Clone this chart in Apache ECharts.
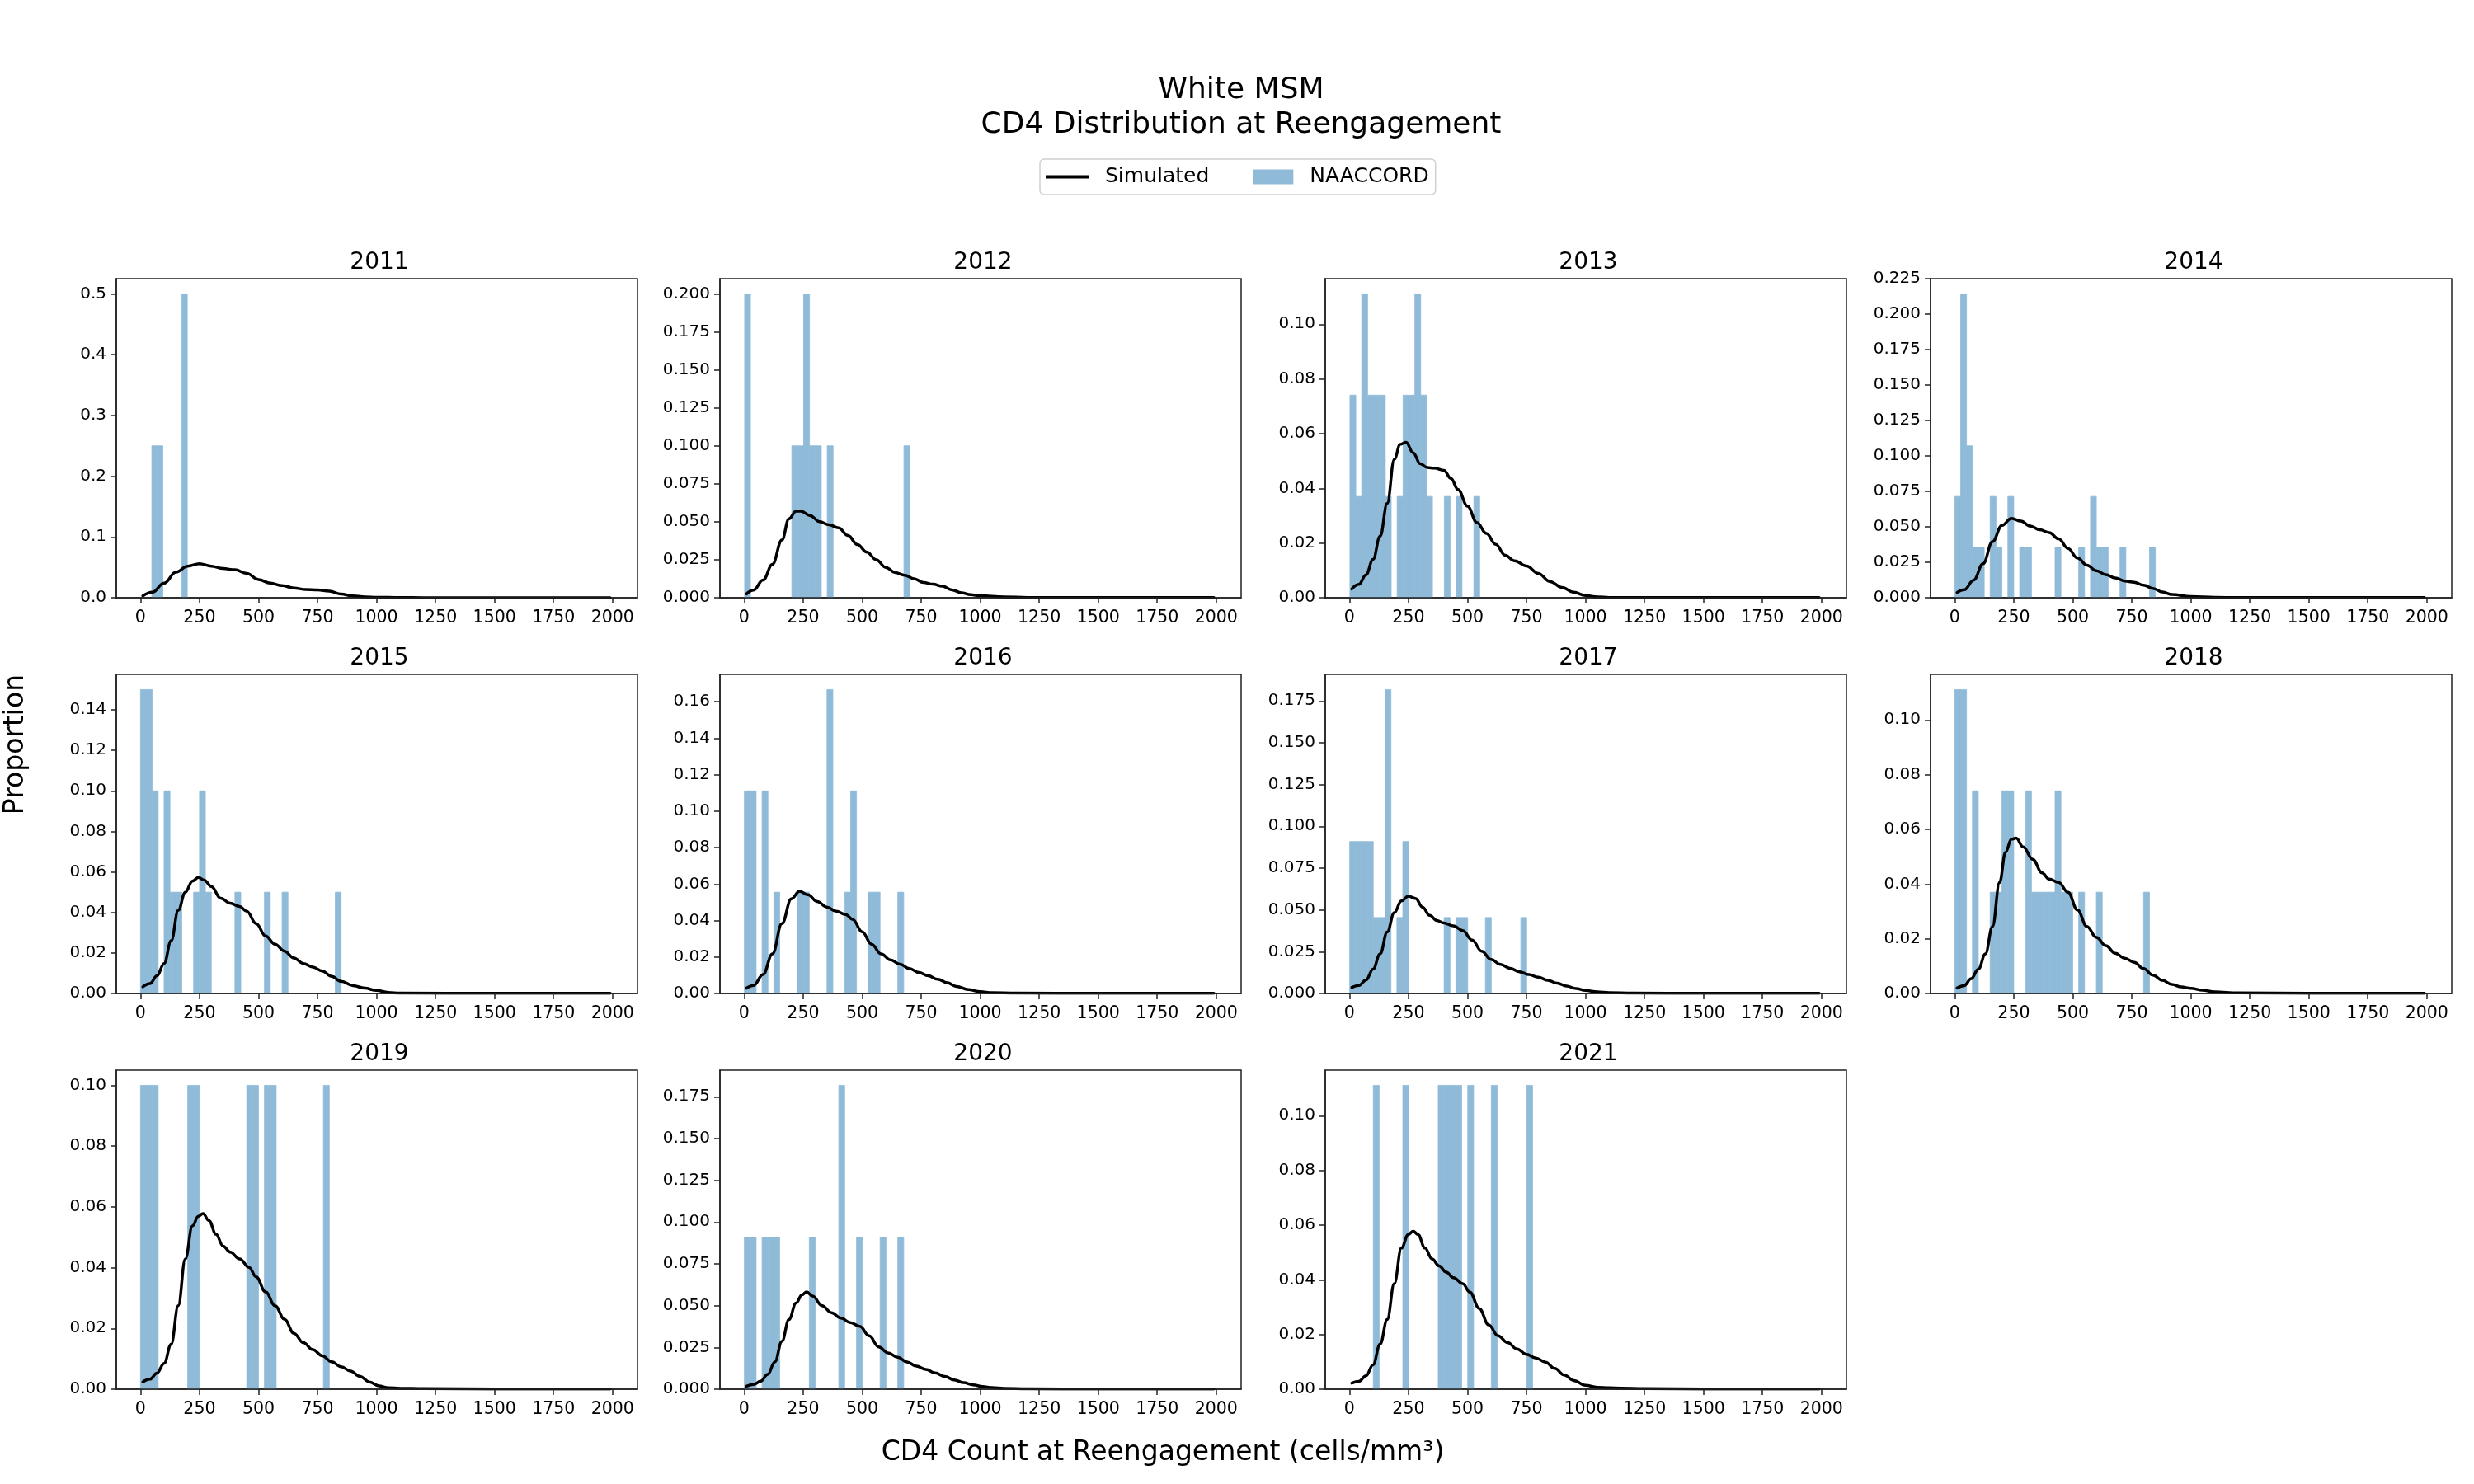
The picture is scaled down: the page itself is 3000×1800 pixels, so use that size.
<!DOCTYPE html>
<html>
<head>
<meta charset="utf-8">
<script src="https://cdn.jsdelivr.net/npm/echarts@6/dist/echarts.min.js"></script>
<style>html,body{margin:0;padding:0;background:#fff}#chart{width:3000px;height:1800px}</style>
</head>
<body>
<div id="chart"></div>
<script>
const years = ['2011','2012','2013','2014','2015','2016','2017','2018','2019','2020','2021'];
const xTickLabels = ['0','250','500','750','1000','1250','1500','1750','2000'];

// NAACCORD histogram bins: [left edge, right edge, proportion]
const naaccord2011 = [[48,71.5,0.25],[71.5,95,0.25],[175,198.5,0.5]];
const naaccord2012 = [[2,27,0.2],[202,227,0.1],[227,252,0.1],[252,277,0.2],[277,302,0.1],[302,327,0.1],[352,377,0.1],[677,702,0.1]];
const naaccord2013 = [[2,27,2/27],[27,52,1/27],[52,77,3/27],[77,102,2/27],[102,127,2/27],[127,152,2/27],[152,177,1/27],[202,227,1/27],[227,252,2/27],[252,277,2/27],[277,302,3/27],[302,327,2/27],[327,352,1/27],[402,427,1/27],[452,477,1/27],[527,552,1/27]];
const naaccord2014 = [[0,25,2/28],[25,50,6/28],[50,75,3/28],[75,100,1/28],[100,125,1/28],[150,175,2/28],[175,200,1/28],[225,250,2/28],[275,300,1/28],[300,325,1/28],[425,450,1/28],[525,550,1/28],[575,600,2/28],[600,625,1/28],[625,650,1/28],[700,725,1/28],[825,850,1/28]];
const naaccord2015 = [[0,25,0.15],[25,50,0.15],[50,75,0.10],[100,125,0.10],[125,150,0.05],[150,175,0.05],[225,250,0.05],[250,275,0.10],[275,300,0.05],[400,425,0.05],[525,550,0.05],[600,625,0.05],[825,850,0.05]];
const naaccord2016 = [[1,26,2/18],[26,51,2/18],[76,101,2/18],[126,151,1/18],[226,251,1/18],[251,276,1/18],[351,376,3/18],[426,451,1/18],[451,476,2/18],[526,551,1/18],[551,576,1/18],[651,676,1/18]];
const naaccord2017 = [[1,26,2/22],[26,51,2/22],[51,76,2/22],[76,101,2/22],[101,126,1/22],[126,151,1/22],[151,176,4/22],[201,226,1/22],[226,251,2/22],[401,426,1/22],[451,476,1/22],[476,501,1/22],[576,601,1/22],[726,751,1/22]];
const naaccord2018 = [[0,25,3/27],[25,50,3/27],[75,100,2/27],[150,175,1/27],[175,200,1/27],[200,225,2/27],[225,250,2/27],[300,325,2/27],[325,350,1/27],[350,375,1/27],[375,400,1/27],[400,425,1/27],[425,450,2/27],[450,475,1/27],[475,500,1/27],[525,550,1/27],[600,625,1/27],[800,825,1/27]];
const naaccord2019 = [[0,25,0.1],[25,50,0.1],[50,75,0.1],[200,225,0.1],[225,250,0.1],[450,475,0.1],[475,500,0.1],[525,550,0.1],[550,575,0.1],[775,800,0.1]];
const naaccord2020 = [[1,26,1/11],[26,51,1/11],[76,101,1/11],[101,126,1/11],[126,151,1/11],[276,301,1/11],[401,426,2/11],[476,501,1/11],[576,601,1/11],[651,676,1/11]];
const naaccord2021 = [[101,126,1/9],[226,251,1/9],[376,401,1/9],[401,426,1/9],[426,451,1/9],[451,476,1/9],[501,526,1/9],[601,626,1/9],[751,776,1/9]];

// Simulated density curves: [cd4, density]
const simulated2011 = [[10,0.003],[50,0.009],[100,0.024],[150,0.042],[200,0.052],[250,0.056],[300,0.052],[350,0.048],[400,0.046],[450,0.040],[500,0.030],[550,0.024],[600,0.020],[650,0.016],[700,0.0135],[750,0.013],[800,0.011],[850,0.006],[900,0.003],[950,0.0015],[1000,0.0008],[1100,0.0003],[1200,0.0001],[1500,0.0001],[1990,0.0001]];
const simulated2012 = [[10,0.0025],[40,0.005],[80,0.0116],[120,0.022],[160,0.038],[190,0.052],[220,0.057],[240,0.057],[280,0.054],[320,0.050],[360,0.048],[400,0.046],[440,0.041],[480,0.035],[520,0.030],[560,0.025],[600,0.020],[640,0.0166],[680,0.0148],[720,0.0125],[760,0.010],[800,0.0089],[840,0.0076],[880,0.0052],[920,0.0033],[960,0.002],[1000,0.0013],[1100,0.0005],[1200,0.0002],[1500,0.0001],[1990,0.0001]];
const simulated2013 = [[10,0.0032],[40,0.0049],[70,0.0084],[100,0.014],[130,0.0225],[160,0.0345],[190,0.0506],[215,0.0561],[240,0.0568],[270,0.053],[300,0.049],[330,0.0476],[360,0.0474],[400,0.0466],[430,0.0436],[460,0.0396],[500,0.0335],[540,0.0275],[580,0.0235],[620,0.0195],[660,0.0155],[700,0.0135],[750,0.0116],[800,0.0089],[850,0.0059],[900,0.0038],[950,0.002],[1000,0.0008],[1050,0.0003],[1100,0.0001],[1500,0.0001],[1990,0.0001]];
const simulated2014 = [[10,0.0037],[40,0.0056],[80,0.0124],[120,0.024],[160,0.0395],[200,0.051],[240,0.056],[280,0.054],[320,0.0506],[360,0.0479],[400,0.046],[440,0.0415],[480,0.0347],[520,0.028],[560,0.023],[600,0.019],[640,0.0163],[680,0.014],[720,0.0118],[760,0.0109],[800,0.0089],[840,0.0066],[880,0.004],[920,0.0023],[1000,0.0008],[1100,0.0003],[1200,0.0001],[1990,0.0001]];
const simulated2015 = [[10,0.0033],[40,0.0049],[70,0.0087],[100,0.0148],[130,0.026],[160,0.041],[190,0.050],[220,0.0555],[245,0.0573],[270,0.056],[300,0.0528],[340,0.047],[380,0.0446],[420,0.0429],[450,0.0406],[490,0.0345],[530,0.0284],[570,0.0243],[610,0.0209],[650,0.0175],[690,0.0148],[730,0.013],[770,0.0111],[810,0.0084],[850,0.006],[900,0.0039],[950,0.0026],[1000,0.0015],[1050,0.0005],[1100,0.0002],[1500,0.0001],[1990,0.0001]];
const simulated2016 = [[10,0.0029],[40,0.0044],[80,0.0104],[120,0.0217],[160,0.0383],[200,0.0519],[235,0.0561],[270,0.0541],[310,0.0504],[350,0.0474],[390,0.0451],[430,0.0433],[460,0.0406],[500,0.0338],[540,0.027],[580,0.0217],[620,0.0184],[660,0.0161],[700,0.0137],[740,0.0115],[780,0.0097],[820,0.0078],[860,0.0059],[900,0.0039],[950,0.0021],[1000,0.001],[1050,0.0004],[1150,0.0002],[1500,0.0001],[1990,0.0001]];
const simulated2017 = [[10,0.0036],[40,0.0048],[70,0.008],[100,0.0146],[130,0.0237],[160,0.0368],[190,0.0483],[220,0.0554],[250,0.0582],[280,0.0569],[310,0.0516],[340,0.0467],[370,0.0437],[400,0.0422],[440,0.0404],[480,0.0376],[520,0.0319],[560,0.0253],[600,0.0204],[640,0.0174],[680,0.0151],[720,0.013],[760,0.0113],[800,0.0097],[840,0.0079],[880,0.0062],[920,0.0044],[960,0.003],[1000,0.0018],[1050,0.001],[1100,0.0005],[1200,0.0002],[1500,0.0001],[1990,0.0001]];
const simulated2018 = [[10,0.002],[40,0.0029],[70,0.0054],[100,0.0089],[130,0.0145],[160,0.0245],[190,0.0406],[215,0.0516],[240,0.0564],[260,0.0568],[290,0.0536],[330,0.0491],[370,0.0441],[400,0.0418],[440,0.0406],[480,0.037],[520,0.0305],[560,0.0245],[600,0.0205],[640,0.0175],[680,0.0147],[720,0.0129],[760,0.0114],[800,0.0091],[840,0.0067],[880,0.0048],[920,0.0033],[960,0.0024],[1000,0.0019],[1050,0.0012],[1100,0.0006],[1200,0.0002],[1500,0.0001],[1990,0.0001]];
const simulated2019 = [[10,0.0024],[40,0.0033],[70,0.0053],[100,0.0085],[130,0.0148],[160,0.0275],[190,0.0429],[220,0.0537],[245,0.0569],[265,0.0578],[290,0.0555],[320,0.051],[350,0.0471],[380,0.0451],[420,0.0429],[460,0.0401],[490,0.037],[530,0.032],[570,0.0275],[610,0.023],[650,0.0184],[690,0.0153],[730,0.013],[770,0.011],[810,0.009],[850,0.0074],[890,0.006],[930,0.0042],[970,0.0024],[1010,0.0011],[1050,0.0005],[1100,0.0003],[1200,0.0002],[1500,0.0001],[1990,0.0001]];
const simulated2020 = [[10,0.0018],[40,0.0028],[70,0.0048],[100,0.0089],[130,0.0163],[160,0.0286],[190,0.0417],[220,0.0516],[245,0.0565],[265,0.0582],[290,0.0557],[330,0.05],[370,0.0458],[410,0.0426],[450,0.0398],[490,0.0376],[530,0.0319],[570,0.0253],[610,0.0217],[650,0.0191],[690,0.0163],[730,0.0138],[770,0.0118],[810,0.0097],[850,0.0076],[890,0.0056],[930,0.0039],[970,0.0026],[1010,0.0016],[1050,0.001],[1100,0.0005],[1200,0.0002],[1500,0.0001],[1990,0.0001]];
const simulated2021 = [[10,0.0022],[40,0.0029],[70,0.0049],[100,0.0089],[130,0.0165],[160,0.0255],[190,0.0386],[220,0.0516],[250,0.0566],[270,0.0578],[290,0.0566],[320,0.0516],[350,0.0476],[380,0.0451],[410,0.0428],[440,0.0408],[480,0.0386],[510,0.0355],[550,0.0295],[590,0.0235],[630,0.0195],[670,0.017],[710,0.0147],[750,0.0127],[790,0.0114],[830,0.0099],[870,0.0076],[910,0.0052],[950,0.0032],[1000,0.0014],[1050,0.0007],[1100,0.0005],[1150,0.0004],[1250,0.0002],[1500,0.0001],[1990,0.0001]];

// y tick labels per panel
const yTicks2011 = ['0.0','0.1','0.2','0.3','0.4','0.5'];
const yTicks2012 = ['0.000','0.025','0.050','0.075','0.100','0.125','0.150','0.175','0.200'];
const yTicks2013 = ['0.00','0.02','0.04','0.06','0.08','0.10'];
const yTicks2014 = ['0.000','0.025','0.050','0.075','0.100','0.125','0.150','0.175','0.200','0.225'];
const yTicks2015 = ['0.00','0.02','0.04','0.06','0.08','0.10','0.12','0.14'];
const yTicks2016 = ['0.00','0.02','0.04','0.06','0.08','0.10','0.12','0.14','0.16'];
const yTicks2017 = ['0.000','0.025','0.050','0.075','0.100','0.125','0.150','0.175'];
const yTicks2018 = ['0.00','0.02','0.04','0.06','0.08','0.10'];
const yTicks2019 = ['0.00','0.02','0.04','0.06','0.08','0.10'];
const yTicks2020 = ['0.000','0.025','0.050','0.075','0.100','0.125','0.150','0.175'];
const yTicks2021 = ['0.00','0.02','0.04','0.06','0.08','0.10'];

const naaccordAll = [naaccord2011,naaccord2012,naaccord2013,naaccord2014,naaccord2015,naaccord2016,naaccord2017,naaccord2018,naaccord2019,naaccord2020,naaccord2021];
const simulatedAll = [simulated2011,simulated2012,simulated2013,simulated2014,simulated2015,simulated2016,simulated2017,simulated2018,simulated2019,simulated2020,simulated2021];
const yTicksAll = [yTicks2011,yTicks2012,yTicks2013,yTicks2014,yTicks2015,yTicks2016,yTicks2017,yTicks2018,yTicks2019,yTicks2020,yTicks2021];

const FONT = 'DejaVu Sans';
const colLeft = [141, 873, 1607, 2341];
const rowTop = [338, 818, 1298];
const PW = 632, PH = 387;
const BAR = '#8fbbd9';
const INK = '#222';

const grids = [], xAxes = [], yAxes = [], series = [], titles = [];
titles.push({
  text: 'White MSM\nCD4 Distribution at Reengagement',
  left: 1500, top: 84, textAlign: 'center',
  textStyle: { fontFamily: FONT, fontSize: 36, fontWeight: 'normal', color: '#000', lineHeight: 42 }
});

years.forEach((yr, i) => {
  const r = Math.floor(i / 4), c = i % 4;
  const left = colLeft[c], top = rowTop[r];
  grids.push({ left: left, top: top, width: PW, height: PH, show: true, borderColor: INK, borderWidth: 1.5, backgroundColor: 'transparent' });
  titles.push({ text: yr, left: left + PW / 2 - 2, top: top - 38, textAlign: 'center',
    textStyle: { fontFamily: FONT, fontSize: 28, fontWeight: 'normal', color: '#000' } });
  const bars = naaccordAll[i];
  const ticks = yTicksAll[i];
  const dec = ticks[1].split('.')[1].length;
  const yMax = Math.max.apply(null, bars.map(b => b[2])) * 1.05 + 1e-9;
  xAxes.push({
    type: 'value', gridIndex: i, min: -102.5, max: 2105.5, z: 10,
    splitLine: { show: false },
    axisLine: { show: true, onZero: false, lineStyle: { color: INK, width: 1.5 } },
    axisTick: { show: true, length: 7, lineStyle: { color: INK, width: 1.5 }, customValues: xTickLabels.map(Number) },
    axisLabel: { fontFamily: FONT, fontSize: 20.5, color: '#000', margin: 14, customValues: xTickLabels.map(Number),
      formatter: v => String(v) }
  });
  yAxes.push({
    type: 'value', gridIndex: i, min: 0, max: yMax, z: 10,
    splitLine: { show: false },
    axisLine: { show: true, onZero: false, lineStyle: { color: INK, width: 1.5 } },
    axisTick: { show: true, length: 7, lineStyle: { color: INK, width: 1.5 }, customValues: ticks.map(Number) },
    axisLabel: { fontFamily: FONT, fontSize: 20, color: '#000', margin: 12, customValues: ticks.map(Number),
      formatter: v => Number(v).toFixed(dec) }
  });
  series.push({
    type: 'custom', name: 'NAACCORD', xAxisIndex: i, yAxisIndex: i, z: 2,
    itemStyle: { color: BAR },
    encode: { x: [0, 1], y: 2 },
    data: bars,
    renderItem: function (params, api) {
      const p0 = api.coord([api.value(0), api.value(2)]);
      const p1 = api.coord([api.value(1), 0]);
      return { type: 'rect', shape: { x: p0[0], y: p0[1], width: p1[0] - p0[0], height: p1[1] - p0[1] },
        style: { fill: BAR, stroke: BAR, lineWidth: 0.8 } };
    }
  });
  series.push({
    type: 'line', name: 'Simulated', xAxisIndex: i, yAxisIndex: i, z: 5,
    data: simulatedAll[i], symbol: 'none', showSymbol: false,
    smooth: 0.4, smoothMonotone: 'x',
    lineStyle: { color: '#000', width: 3.5, join: 'round', cap: 'round' }, itemStyle: { color: '#000' }
  });
});

const chart = echarts.init(document.getElementById('chart'), null, { renderer: 'canvas' });
chart.setOption({
  backgroundColor: '#fff',
  animation: false,
  title: titles,
  legend: {
    left: 1261, top: 193, orient: 'horizontal',
    itemWidth: 52, itemHeight: 18, itemGap: 50,
    padding: [9, 8, 9, 7],
    borderColor: '#d0d0d0', borderWidth: 1.5, borderRadius: 5,
    textStyle: { fontFamily: FONT, fontSize: 25, color: '#000', padding: [0, 0, 0, 15] },
    data: [
      { name: 'Simulated', icon: 'path://M0,0 M0,7 L52,7 L52,11 L0,11 Z M52,18', itemStyle: { color: '#000' } },
      { name: 'NAACCORD', icon: 'path://M0,0 M3,0 L52,0 L52,18 L3,18 Z', itemStyle: { color: BAR } }
    ]
  },
  grid: grids,
  xAxis: xAxes,
  yAxis: yAxes,
  series: series,
  graphic: [
    { type: 'text', x: 19, y: 903, rotation: Math.PI / 2,
      style: { text: 'Proportion', font: '33px "DejaVu Sans"', fill: '#000', align: 'center', verticalAlign: 'middle' } },
    { type: 'text', x: 1410, y: 1762,
      style: { text: 'CD4 Count at Reengagement (cells/mm³)', font: '33px "DejaVu Sans"', fill: '#000', align: 'center', verticalAlign: 'middle' } }
  ]
});
</script>
</body>
</html>
